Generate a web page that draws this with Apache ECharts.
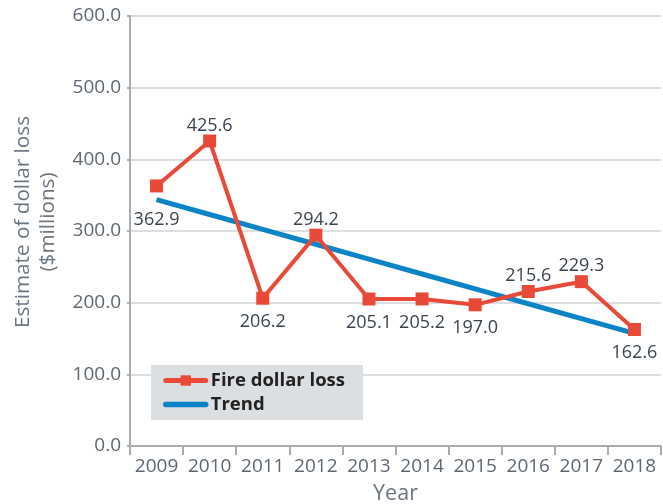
<!DOCTYPE html>
<html><head><meta charset="utf-8">
<script src="https://cdn.jsdelivr.net/npm/echarts@6/dist/echarts.min.js"></script>
<style>html,body{margin:0;padding:0;background:#fff}#c{width:663px;height:504px}</style>
</head><body><div id="c"></div>
<script>
const years = ['2009','2010','2011','2012','2013','2014','2015','2016','2017','2018'];
const fireLoss = [362.9, 425.6, 206.2, 294.2, 205.1, 205.2, 197.0, 215.6, 229.3, 162.6];
const trend = [343.7, 323.0, 302.2, 281.5, 260.7, 240.0, 219.3, 198.5, 177.8, 157.1];
const labelPos = ['bottom','top','bottom','top','bottom','bottom','bottom','top','top','bottom'];
const yTicks = [0, 100, 200, 300, 400, 500, 600];

const chart = echarts.init(document.getElementById('c'));
const FONT = '"Open Sans", sans-serif';
chart.setOption({
  animation: false,
  textStyle: { fontFamily: FONT },
  grid: { left: 130, right: 2, top: 16, bottom: 58, outerBoundsMode: 'none', containLabel: false },
  legend: {
    orient: 'vertical', left: 151, top: 365,
    backgroundColor: '#dcdfe2', borderRadius: 0,
    padding: [6, 18, 6, 12], itemGap: 5, itemWidth: 40, itemHeight: 13,
    textStyle: { fontFamily: FONT, fontWeight: 'bold', fontSize: 18.5, color: '#222' },
    data: [
      { name: 'Fire dollar loss', lineStyle: { cap: 'round', width: 5 } },
      { name: 'Trend', itemStyle: { opacity: 0 }, lineStyle: { cap: 'round', width: 5.5 } }
    ]
  },
  xAxis: {
    type: 'category', data: years, boundaryGap: true,
    name: 'Year', nameLocation: 'middle', nameGap: 37,
    nameTextStyle: { fontSize: 21.5, color: '#6b7580', fontFamily: FONT },
    axisLine: { lineStyle: { color: '#a9acb0', width: 2 } },
    axisTick: { show: true, interval: 0, length: 9, lineStyle: { color: '#a9acb0', width: 2 } },
    axisLabel: { interval: 0, fontSize: 19, color: '#5d6772', margin: 11, fontFamily: FONT }
  },
  yAxis: {
    type: 'value', min: yTicks[0], max: yTicks[yTicks.length - 1], interval: 100,
    name: 'Estimate of dollar loss\n($millions)', nameLocation: 'middle', nameGap: 69,
    nameTextStyle: { fontSize: 20.7, color: '#6b7580', lineHeight: 25, fontFamily: FONT, padding: [0, 0, 0, 18] },
    axisLine: { show: true, lineStyle: { color: '#a9acb0', width: 2 } },
    axisTick: { show: true, length: 3, lineStyle: { color: '#a9acb0', width: 2 } },
    splitLine: { lineStyle: { color: '#dcdfe2', width: 2 } },
    axisLabel: { fontSize: 19, color: '#5d6772', margin: 9, fontFamily: FONT,
      formatter: v => v.toFixed(1) }
  },
  series: [
    {
      name: 'Fire dollar loss', type: 'line', z: 3,
      data: fireLoss.map((v, i) => ({
        value: v,
        label: { position: labelPos[i], offset: i === 0 ? [0, 13] : (labelPos[i]==='bottom' ? [0, 3] : [0, 5]) }
      })),
      symbol: 'rect', symbolSize: 13,
      lineStyle: { color: '#e84a37', width: 4 },
      itemStyle: { color: '#e84a37' },
      label: { show: true, fontSize: 18, color: '#3a4350', fontFamily: FONT, formatter: p => p.value.toFixed(1) }
    },
    {
      name: 'Trend', type: 'line', z: 2,
      data: trend, symbol: 'none', showSymbol: false,
      lineStyle: { color: '#0a84c6', width: 5 },
      itemStyle: { color: '#0a84c6' }
    }
  ]
});
</script></body></html>
